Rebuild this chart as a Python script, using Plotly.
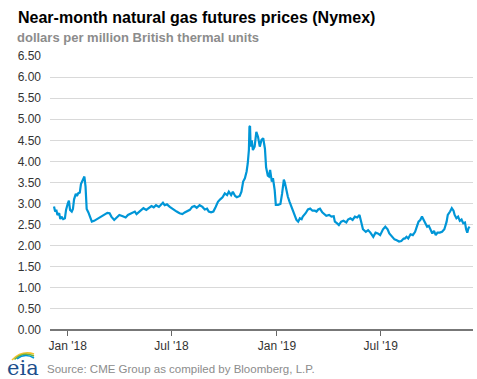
import plotly.graph_objects as go

dates = [
    "2017-12-08", "2017-12-10", "2017-12-12", "2017-12-14", "2017-12-17", "2017-12-19", "2017-12-21",
    "2017-12-24", "2017-12-27", "2017-12-29", "2018-01-01", "2018-01-03", "2018-01-05", "2018-01-08",
    "2018-01-10", "2018-01-12", "2018-01-15", "2018-01-17", "2018-01-19", "2018-01-22", "2018-01-24",
    "2018-01-26", "2018-01-29", "2018-01-30", "2018-02-01", "2018-02-03", "2018-02-06", "2018-02-09",
    "2018-02-12", "2018-02-16", "2018-02-21", "2018-02-25", "2018-03-02", "2018-03-07", "2018-03-11",
    "2018-03-15", "2018-03-18", "2018-03-23", "2018-03-28", "2018-04-01", "2018-04-07", "2018-04-12",
    "2018-04-16", "2018-04-22", "2018-04-28", "2018-05-01", "2018-05-05", "2018-05-09", "2018-05-13",
    "2018-05-18", "2018-05-23", "2018-05-27", "2018-05-31", "2018-06-04", "2018-06-09", "2018-06-13",
    "2018-06-16", "2018-06-19", "2018-06-23", "2018-06-28", "2018-07-02", "2018-07-06", "2018-07-10",
    "2018-07-15", "2018-07-20", "2018-07-24", "2018-07-28", "2018-08-02", "2018-08-06", "2018-08-10",
    "2018-08-14", "2018-08-19", "2018-08-24", "2018-08-28", "2018-09-01", "2018-09-04", "2018-09-08",
    "2018-09-12", "2018-09-16", "2018-09-20", "2018-09-24", "2018-09-28", "2018-10-02", "2018-10-06",
    "2018-10-09", "2018-10-13", "2018-10-16", "2018-10-20", "2018-10-23", "2018-10-28", "2018-10-31",
    "2018-11-03", "2018-11-06", "2018-11-09", "2018-11-11", "2018-11-13", "2018-11-14", "2018-11-15",
    "2018-11-16", "2018-11-18", "2018-11-20", "2018-11-23", "2018-11-26", "2018-11-29", "2018-12-02",
    "2018-12-05", "2018-12-08", "2018-12-11", "2018-12-13", "2018-12-16", "2018-12-18", "2018-12-20",
    "2018-12-23", "2018-12-25", "2018-12-28", "2018-12-30", "2019-01-03", "2019-01-07", "2019-01-10",
    "2019-01-13", "2019-01-15", "2019-01-17", "2019-01-20", "2019-01-23", "2019-01-26", "2019-01-29",
    "2019-02-01", "2019-02-04", "2019-02-07", "2019-02-10", "2019-02-13", "2019-02-15", "2019-02-20",
    "2019-02-24", "2019-02-28", "2019-03-04", "2019-03-08", "2019-03-11", "2019-03-14", "2019-03-17",
    "2019-03-21", "2019-03-25", "2019-03-28", "2019-04-02", "2019-04-06", "2019-04-10", "2019-04-12",
    "2019-04-16", "2019-04-19", "2019-04-23", "2019-04-27", "2019-05-02", "2019-05-05", "2019-05-09",
    "2019-05-13", "2019-05-17", "2019-05-21", "2019-05-25", "2019-05-28", "2019-05-31", "2019-06-05",
    "2019-06-09", "2019-06-13", "2019-06-18", "2019-06-22", "2019-06-26", "2019-06-30", "2019-07-05",
    "2019-07-09", "2019-07-13", "2019-07-16", "2019-07-21", "2019-07-25", "2019-07-29", "2019-08-02",
    "2019-08-06", "2019-08-10", "2019-08-12", "2019-08-15", "2019-08-18", "2019-08-22", "2019-08-26",
    "2019-08-30", "2019-09-02", "2019-09-05", "2019-09-08", "2019-09-11", "2019-09-14", "2019-09-17",
    "2019-09-20", "2019-09-23", "2019-09-26", "2019-09-29", "2019-10-02", "2019-10-05", "2019-10-08",
    "2019-10-12", "2019-10-16", "2019-10-20", "2019-10-24", "2019-10-26", "2019-10-30", "2019-11-02",
    "2019-11-05", "2019-11-07", "2019-11-10", "2019-11-13", "2019-11-16", "2019-11-19", "2019-11-22",
    "2019-11-25", "2019-11-27", "2019-11-29", "2019-12-01", "2019-12-03",
]

prices = [
    2.93, 2.81, 2.85, 2.73, 2.77, 2.63, 2.69,
    2.63, 2.65, 2.85, 3.00, 3.07, 2.85, 2.81,
    2.87, 3.10, 3.23, 3.18, 3.24, 3.26, 3.46,
    3.52, 3.60, 3.64, 3.40, 2.87, 2.79, 2.65,
    2.57, 2.59, 2.63, 2.67, 2.70, 2.75, 2.78,
    2.77, 2.69, 2.61, 2.69, 2.73, 2.70, 2.67,
    2.73, 2.77, 2.81, 2.75, 2.79, 2.83, 2.89,
    2.85, 2.89, 2.94, 2.91, 2.96, 2.92, 2.98,
    3.02, 2.96, 2.98, 2.92, 2.89, 2.85, 2.81,
    2.77, 2.75, 2.79, 2.81, 2.85, 2.92, 2.94,
    2.90, 2.96, 2.92, 2.86, 2.88, 2.81, 2.79,
    2.81, 2.92, 3.04, 3.10, 3.15, 3.24, 3.20,
    3.28, 3.20, 3.28, 3.18, 3.15, 3.18, 3.28,
    3.52, 3.60, 3.76, 3.95, 4.27, 4.82, 4.84,
    4.35, 4.50, 4.27, 4.35, 4.70, 4.58, 4.35,
    4.51, 4.55, 4.30, 3.86, 3.66, 3.64, 3.80,
    3.52, 3.60, 3.32, 2.97, 2.97, 2.99, 3.24,
    3.57, 3.48, 3.32, 3.16, 3.04, 2.93, 2.81,
    2.71, 2.61, 2.57, 2.65, 2.63, 2.69, 2.77,
    2.86, 2.88, 2.83, 2.83, 2.81, 2.86, 2.88,
    2.79, 2.75, 2.71, 2.73, 2.69, 2.70, 2.57,
    2.53, 2.49, 2.57, 2.59, 2.55, 2.62, 2.65,
    2.61, 2.69, 2.67, 2.73, 2.53, 2.39, 2.33,
    2.37, 2.31, 2.21, 2.31, 2.29, 2.25, 2.39,
    2.45, 2.39, 2.29, 2.21, 2.15, 2.13, 2.10,
    2.11, 2.17, 2.17, 2.21, 2.17, 2.27, 2.25,
    2.33, 2.45, 2.57, 2.61, 2.69, 2.61, 2.53,
    2.45, 2.47, 2.37, 2.29, 2.35, 2.25, 2.31,
    2.31, 2.33, 2.39, 2.57, 2.73, 2.81, 2.89,
    2.83, 2.73, 2.65, 2.69, 2.59, 2.62, 2.53,
    2.55, 2.39, 2.31, 2.41, 2.45,
]

x_tick_vals = ["2018-01-01", "2018-07-01", "2019-01-01", "2019-07-01"]
x_tick_text = ["Jan '18", "Jul '18", "Jan '19", "Jul '19"]
y_tick_vals = [i * 0.5 for i in range(14)]
y_tick_text = [f"{v:.2f}" for v in y_tick_vals]

title_text = "Near-month natural gas futures prices (Nymex)"
subtitle_text = "dollars per million British thermal units"
source_text = "Source: CME Group as compiled by Bloomberg, L.P."

FONT = "Arial, 'Liberation Sans', sans-serif"

fig = go.Figure()
fig.add_trace(go.Scatter(
    x=dates, y=prices, mode="lines",
    line=dict(color="#0096d7", width=2.2),
    hoverinfo="skip", showlegend=False,
))

fig.update_layout(
    width=477, height=379,
    margin=dict(l=50, r=4, t=56, b=49),
    paper_bgcolor="white", plot_bgcolor="white",
    font=dict(family=FONT, size=12, color="#333333"),
    showlegend=False,
    xaxis=dict(
        range=["2017-12-01", "2019-12-09"],
        tickvals=x_tick_vals, ticktext=x_tick_text,
        showgrid=False, zeroline=False, showline=False,
        ticks="outside", ticklen=5, tickcolor="#666666", tickwidth=1,
        tickfont=dict(family=FONT, size=12, color="#333333"),
        fixedrange=True,
    ),
    yaxis=dict(
        range=[0, 6.5],
        tickvals=y_tick_vals, ticktext=y_tick_text,
        showgrid=True, gridcolor="#d9d9d9", gridwidth=1,
        zeroline=True, zerolinecolor="#777777", zerolinewidth=2,
        showline=False, ticks="", ticklabelstandoff=8,
        tickfont=dict(family=FONT, size=12, color="#333333"),
        fixedrange=True,
    ),
)

def px_x(p):
    return (p - 50) / 423

def px_y(p):
    return (330 - p) / 274

fig.add_annotation(
    text="<b>" + title_text + "</b>", xref="paper", yref="paper",
    x=px_x(16), y=px_y(28), xanchor="left", yanchor="bottom",
    showarrow=False, font=dict(family=FONT, size=16, color="#000000"),
)
fig.add_annotation(
    text="<b>" + subtitle_text + "</b>", xref="paper", yref="paper",
    x=px_x(15), y=px_y(47), xanchor="left", yanchor="bottom",
    showarrow=False, font=dict(family=FONT, size=13, color="#8c8c8c"),
)
fig.add_annotation(
    text=source_text, xref="paper", yref="paper",
    x=px_x(45), y=px_y(377), xanchor="left", yanchor="bottom",
    showarrow=False, font=dict(family=FONT, size=11.5, color="#8c8c8c"),
)
fig.add_annotation(
    text="eia", xref="paper", yref="paper",
    x=px_x(5), y=px_y(382), xanchor="left", yanchor="bottom",
    showarrow=False, font=dict(family="'DejaVu Serif', serif", size=21, color="#1d4f8c"),
)

arc_specs = [("#f2c12e", 0), ("#6cb33f", 2.5), ("#0096d7", 5)]
for color, off in arc_specs:
    x0, y0 = px_x(12 + off), px_y(360 - off * 0.2)
    xm, ym = px_x(22 + off * 0.6), px_y(350 + off * 0.5)
    x1, y1 = px_x(34), px_y(354 + off * 0.8)
    fig.add_shape(
        type="path", xref="paper", yref="paper",
        path=f"M {x0},{y0} Q {xm},{ym} {x1},{y1}",
        line=dict(color=color, width=1.6),
    )

fig.write_html(
    "out.html",
    config={"displayModeBar": False, "staticPlot": True},
    post_script="document.body.style.margin='0';document.body.style.overflow='hidden';",
)
